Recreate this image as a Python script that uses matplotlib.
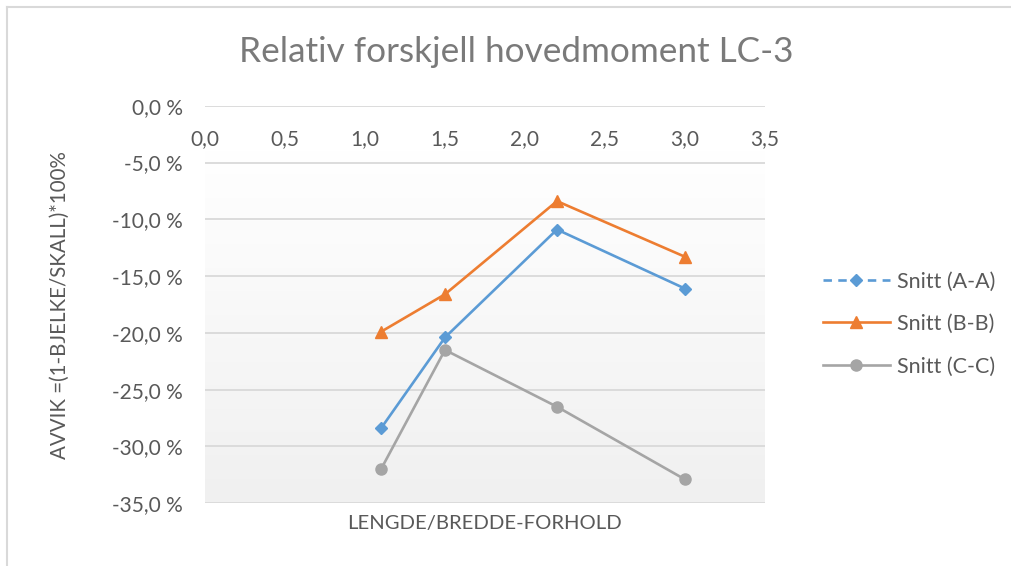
import numpy as np
import matplotlib
matplotlib.use("Agg")
import matplotlib.pyplot as plt
from matplotlib.colors import LinearSegmentedColormap
from matplotlib.lines import Line2D

plt.rcParams["font.family"] = ["Lato", "DejaVu Sans"]

# L/B ratio per section and relative deviation (%) of main moment, LC-3
ratio = [1.1, 1.5, 2.2, 3.0]
snitt_aa = [-28.4, -20.4, -10.9, -16.1]
snitt_bb = [-19.9, -16.6, -8.4, -13.3]
snitt_cc = [-32.0, -21.5, -26.5, -32.9]

series_names = ["Snitt (A-A)", "Snitt (B-B)", "Snitt (C-C)"]
x_ticks = [0.0, 0.5, 1.0, 1.5, 2.0, 2.5, 3.0, 3.5]
x_tick_labels = ["0,0", "0,5", "1,0", "1,5", "2,0", "2,5", "3,0", "3,5"]
y_ticks = [0, -5, -10, -15, -20, -25, -30, -35]
y_tick_labels = ["0,0 %", "-5,0 %", "-10,0 %", "-15,0 %", "-20,0 %",
                 "-25,0 %", "-30,0 %", "-35,0 %"]

title = "Relativ forskjell hovedmoment LC-3"
x_title = "LENGDE/BREDDE-FORHOLD"
y_title = "AVVIK =(1-BJELKE/SKALL)*100%"

BLUE = "#5b9bd5"
ORANGE = "#ed7d31"
GREY = "#a5a5a5"
TEXT = "#595959"
GRID = "#d9d9d9"

W, H = 1012, 566
fig = plt.figure(figsize=(W / 100, H / 100), dpi=100)
fig.patch.set_facecolor("white")

ax = fig.add_axes([205 / W, 1 - 503.3 / H, 560 / W, (503.3 - 105.7) / H])
ax.set_xlim(0, 3.5)
ax.set_ylim(-35, 0)

# soft vertical gradient in the plot area, below the category labels
grad = np.linspace(0, 1, 256).reshape(-1, 1)
cmap = LinearSegmentedColormap.from_list("plotfill", ["#ffffff", "#f0f0f0"])
ax.imshow(grad, extent=[0, 3.5, -35, -3.95], aspect="auto", cmap=cmap,
          origin="upper", zorder=0, interpolation="bilinear")

ax.set_axisbelow(True)
ax.yaxis.grid(True, color=GRID, lw=1.3)
ax.xaxis.grid(False)
for s in ax.spines.values():
    s.set_visible(False)

ax.set_yticks(y_ticks)
ax.set_yticklabels(y_tick_labels)
ax.tick_params(axis="y", length=0, pad=16, labelsize=15, labelcolor=TEXT)
ax.set_xticks([])

# category axis sits on the 0 % line, labels drawn just beneath it
for xv, lab in zip(x_ticks, x_tick_labels):
    ax.text(xv, -3.45, lab, ha="center", va="baseline", fontsize=15,
            color=TEXT, clip_on=False)

lw = 1.9
ax.plot(ratio, snitt_aa, color=BLUE, lw=lw, marker="D", ms=6.5, zorder=3)
ax.plot(ratio, snitt_bb, color=ORANGE, lw=lw, marker="^", ms=8, zorder=3)
ax.plot(ratio, snitt_cc, color=GREY, lw=lw, marker="o", ms=8, zorder=3)

fig.text(516 / W, 1 - 62 / H, title, ha="center", va="baseline",
         fontsize=25.3, color="#7a7a7a")
fig.text(485 / W, 1 - 523 / H, x_title, ha="center", va="center",
         fontsize=14.6, color=TEXT)
fig.text(60 / W, 1 - 305 / H, y_title, ha="center", va="center",
         rotation=90, fontsize=14.8, color=TEXT)

handles = [
    Line2D([], [], color=BLUE, lw=lw, ls=(0, (3.2, 2.4)), marker="D", ms=6.5),
    Line2D([], [], color=ORANGE, lw=lw, marker="^", ms=8),
    Line2D([], [], color=GREY, lw=lw, marker="o", ms=8),
]
fig.legend(handles, series_names, loc="center left",
           bbox_to_anchor=(823 / W, 1 - 324 / H), frameon=False,
           fontsize=15.5, labelcolor=TEXT, handlelength=3.1,
           handletextpad=0.35, labelspacing=1.05, borderpad=0,
           borderaxespad=0)

# chart frame edges
fig.add_artist(Line2D([7 / W, 7 / W], [0, 1 - 7 / H], transform=fig.transFigure,
                      color=GRID, lw=1.5))
fig.add_artist(Line2D([7 / W, 1], [1 - 7 / H, 1 - 7 / H], transform=fig.transFigure,
                      color=GRID, lw=1.5))

fig.savefig("out.png", dpi=100)
